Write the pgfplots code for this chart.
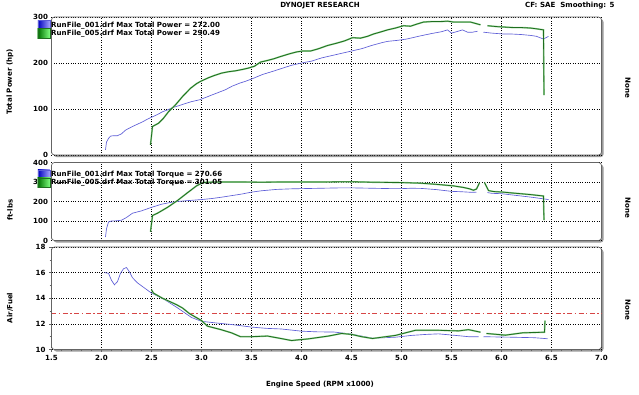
\documentclass[border=0pt]{standalone}
\usepackage{pgfplots}
\pgfplotsset{compat=1.18}
\usepackage{fontspec}
\setmainfont{DejaVu Sans}
\usetikzlibrary{shadows}
\newcommand\tf{\fontsize{7.1}{8}\selectfont\bfseries}
\definecolor{runblue}{RGB}{92,92,215}
\definecolor{rungreen}{RGB}{30,110,30}
\definecolor{halogreen}{RGB}{150,210,150}
\definecolor{afred}{RGB}{215,70,70}
\definecolor{framegray}{RGB}{100,100,100}
\definecolor{shadowgray}{RGB}{155,155,155}
\pgfplotsset{
  dyno/.style={
    scale only axis, width=550bp,
    xmin=1.5, xmax=7,
    axis background/.style={fill=white, rounded corners=3pt,
      drop shadow={shadow xshift=2.1pt, shadow yshift=-2.1pt, fill=shadowgray, opacity=1}},
    axis line style={draw=framegray, line width=0.7pt, rounded corners=3pt},
    grid=major, grid style={black, dotted, line width=0.5pt},
    tick label style={font=\tf},
    /pgf/number format/assume math mode=true,
    tick style={framegray, line width=0.4pt},
    major tick length=0pt,
    unbounded coords=jump,
    legend style={anchor=north west, draw=none, fill=none, font=\tf,
      inner sep=0pt, outer sep=0pt, row sep=-2.4pt, nodes={inner sep=0.5pt}},
    legend cell align=left,
  },
  blueline/.style={runblue, line width=0.65pt,
    legend image code/.code={\shade[left color=blue!75!black, right color=blue!35] (0pt,-4.7pt) rectangle (12pt,4.7pt);}},
  greenline/.style={rungreen, line width=0.8pt, preaction={draw=halogreen, line width=1.6pt},
    legend image code/.code={\shade[left color=green!45!black, right color=green!50!white] (0pt,-4.7pt) rectangle (12pt,4.7pt);}},
}
\begin{document}
\begin{tikzpicture}
\useasboundingbox (0bp,0bp) rectangle (639bp,395bp);
% ---------------- Power ----------------
\begin{axis}[dyno, at={(51.5bp,240bp)}, anchor=south west, height=138bp,
  ymin=0, ymax=300, ytick={0,100,200,300},
  xtick={2,2.5,...,6.5}, xticklabels={},
  legend style={at={(-0.026,0.975)}}]
\addplot[blueline] coordinates {
(2.04,11) (2.05,28) (2.07,36) (2.09,41) (2.12,42) (2.16,42) (2.20,46) (2.24,54)
(2.31,62) (2.36,67) (2.41,72) (2.46,78) (2.51,83) (2.56,88) (2.61,94) (2.66,98)
(2.71,103) (2.77,107) (2.84,112) (2.90,116) (2.98,120) (3.04,125) (3.11,131)
(3.17,136) (3.24,142) (3.31,150) (3.38,156) (3.45,161) (3.51,166) (3.61,175)
(3.70,181) (3.80,188) (3.90,195) (4.00,200) (4.10,204) (4.20,211) (4.30,216)
(4.40,221) (4.50,226) (4.60,231) (4.70,238) (4.80,244) (4.86,247) (4.95,249)
(5.05,252) (5.19,259) (5.30,264) (5.40,268) (5.46,272) (5.50,265) (5.55,268)
(5.61,272) (5.66,267) (5.71,267) (5.76,269) (5.79,nan) (5.82,267) (5.90,265)
(6.02,263) (6.10,263) (6.19,262) (6.29,260) (6.35,258) (6.42,252) (6.47,258)};
\addlegendentry{RunFile\_001.drf Max Total Power = 272.00}
\addplot[greenline] coordinates {
(2.49,22) (2.51,62) (2.57,69) (2.62,80) (2.67,94) (2.74,109) (2.81,127) (2.89,145)
(2.95,155) (2.99,160) (3.07,168) (3.13,173) (3.20,178) (3.27,181) (3.34,183)
(3.41,186) (3.47,189) (3.53,193) (3.59,202) (3.65,205) (3.72,209) (3.79,214)
(3.88,220) (3.95,224) (4.01,226) (4.09,226) (4.17,231) (4.26,238) (4.35,243)
(4.43,248) (4.51,255) (4.59,254) (4.66,258) (4.72,263) (4.80,268) (4.86,272)
(4.94,276) (5.02,281) (5.09,280) (5.16,285) (5.22,289) (5.30,290) (5.39,290)
(5.46,291) (5.52,289) (5.60,289) (5.69,289) (5.74,286) (5.79,283) (5.82,nan)
(5.86,281) (5.96,279) (6.04,278) (6.12,277) (6.20,277) (6.29,276) (6.36,274)
(6.42,272) (6.425,130)};
\addlegendentry{RunFile\_005.drf Max Total Power = 290.49}
\end{axis}
% ---------------- Torque ----------------
\begin{axis}[dyno, at={(51.5bp,154.5bp)}, anchor=south west, height=78bp,
  ymin=0, ymax=400, ytick={0,100,200,300,400},
  xtick={2,2.5,...,6.5}, xticklabels={},
  legend style={at={(-0.026,0.91)}}]
\addplot[blueline] coordinates {
(2.04,18) (2.05,60) (2.07,95) (2.10,100) (2.15,101) (2.20,104) (2.25,118)
(2.31,140) (2.40,152) (2.50,170) (2.60,186) (2.70,196) (2.76,200) (2.85,204)
(3.00,210) (3.10,215) (3.20,222) (3.30,230) (3.40,238) (3.50,248) (3.60,255)
(3.75,262) (3.90,265) (4.00,266) (4.20,268) (4.40,270) (4.50,270) (4.70,268)
(4.90,266) (5.00,266) (5.10,268) (5.20,267) (5.35,261) (5.50,252) (5.60,250)
(5.70,247) (5.75,248) (5.79,nan) (5.86,246) (5.90,242) (6.00,240) (6.10,234)
(6.20,228) (6.30,222) (6.40,215) (6.47,210)};
\addlegendentry{RunFile\_001.drf Max Total Torque = 270.66}
\addplot[greenline] coordinates {
(2.49,45) (2.51,128) (2.56,140) (2.66,170) (2.76,205) (2.86,245) (2.95,280)
(3.01,296) (3.06,299) (3.20,300) (3.40,300) (3.60,299) (3.80,300) (4.00,300)
(4.20,300) (4.40,301) (4.52,301) (4.70,299) (4.86,298) (5.00,297) (5.19,294)
(5.35,288) (5.52,280) (5.62,272) (5.68,265) (5.72,258) (5.75,264) (5.78,296)
(5.80,nan) (5.83,297) (5.87,256) (5.92,251) (6.02,248) (6.10,244) (6.19,240)
(6.30,235) (6.42,228) (6.425,105)};
\addlegendentry{RunFile\_005.drf Max Total Torque = 301.05}
\end{axis}
% ---------------- Air/Fuel ----------------
\begin{axis}[dyno, at={(51.5bp,45.5bp)}, anchor=south west, height=102.5bp,
  ymin=10, ymax=18, ytick={10,12,14,16,18},
  xtick={1.5,2,...,7}, minor x tick num=4, minor y tick num=1,
  major tick length=2.5pt, minor tick length=2pt, tick align=outside,
  xtick pos=left, ytick pos=left,
  xticklabel style={/pgf/number format/.cd, fixed, fixed zerofill, precision=1}]
\addplot[afred, line width=0.7pt, dash pattern=on 5pt off 2.5pt on 1.5pt off 2.5pt] coordinates {(1.5,12.8) (7,12.8)};
\addplot[blueline] coordinates {
(2.03,16.0) (2.07,15.95) (2.10,15.4) (2.13,15.05) (2.16,15.3) (2.19,15.95)
(2.22,16.3) (2.25,16.4) (2.28,16.05) (2.31,15.6) (2.36,15.2) (2.43,14.8)
(2.50,14.4) (2.63,13.9) (2.76,13.25) (2.90,12.5) (3.00,12.2) (3.16,12.06)
(3.30,11.95) (3.50,11.75) (3.65,11.65) (3.80,11.6) (4.00,11.43) (4.15,11.38)
(4.33,11.36) (4.50,11.2) (4.71,10.88) (4.94,10.96) (5.10,11.1) (5.25,11.18)
(5.37,11.22) (5.54,11.1) (5.67,11.0) (5.77,11.0) (5.80,nan) (5.82,11.0)
(5.95,10.98) (6.10,10.96) (6.33,10.92) (6.46,10.84)};
\addplot[greenline] coordinates {
(2.50,14.66) (2.52,14.4) (2.61,14.0) (2.75,13.5) (2.81,13.24) (2.88,12.8)
(3.00,12.26) (3.06,11.82) (3.19,11.56) (3.30,11.3) (3.39,11.0) (3.50,11.0)
(3.66,11.05) (3.80,10.85) (3.90,10.7) (4.07,10.83) (4.27,11.05) (4.40,11.25)
(4.50,11.18) (4.60,11.0) (4.71,10.86) (4.94,11.1) (5.14,11.5) (5.37,11.5)
(5.57,11.45) (5.67,11.55) (5.79,11.35) (5.82,nan) (5.85,11.25) (6.04,11.12)
(6.21,11.3) (6.43,11.35) (6.435,12.26)};
\end{axis}
% ---------------- texts ----------------
\node[font=\tf] at (320bp,389bp) {DYNOJET RESEARCH};
\node[font=\tf, anchor=east] at (618bp,389bp) {CF: SAE\ \ Smoothing: 5};
\node[font=\tf, rotate=-90] at (628bp,307bp) {None};
\node[font=\tf, rotate=-90] at (628bp,187bp) {None};
\node[font=\tf, rotate=-90] at (628bp,85bp) {None};
\node[font=\tf, rotate=90] at (10bp,313bp) {Total Power (hp)};
\node[font=\tf, rotate=90] at (10bp,185bp) {ft-lbs};
\node[font=\tf, rotate=90] at (10bp,87bp) {Air/Fuel};
\node[font=\tf] at (320bp,10bp) {Engine Speed (RPM x1000)};
\end{tikzpicture}
\end{document}
